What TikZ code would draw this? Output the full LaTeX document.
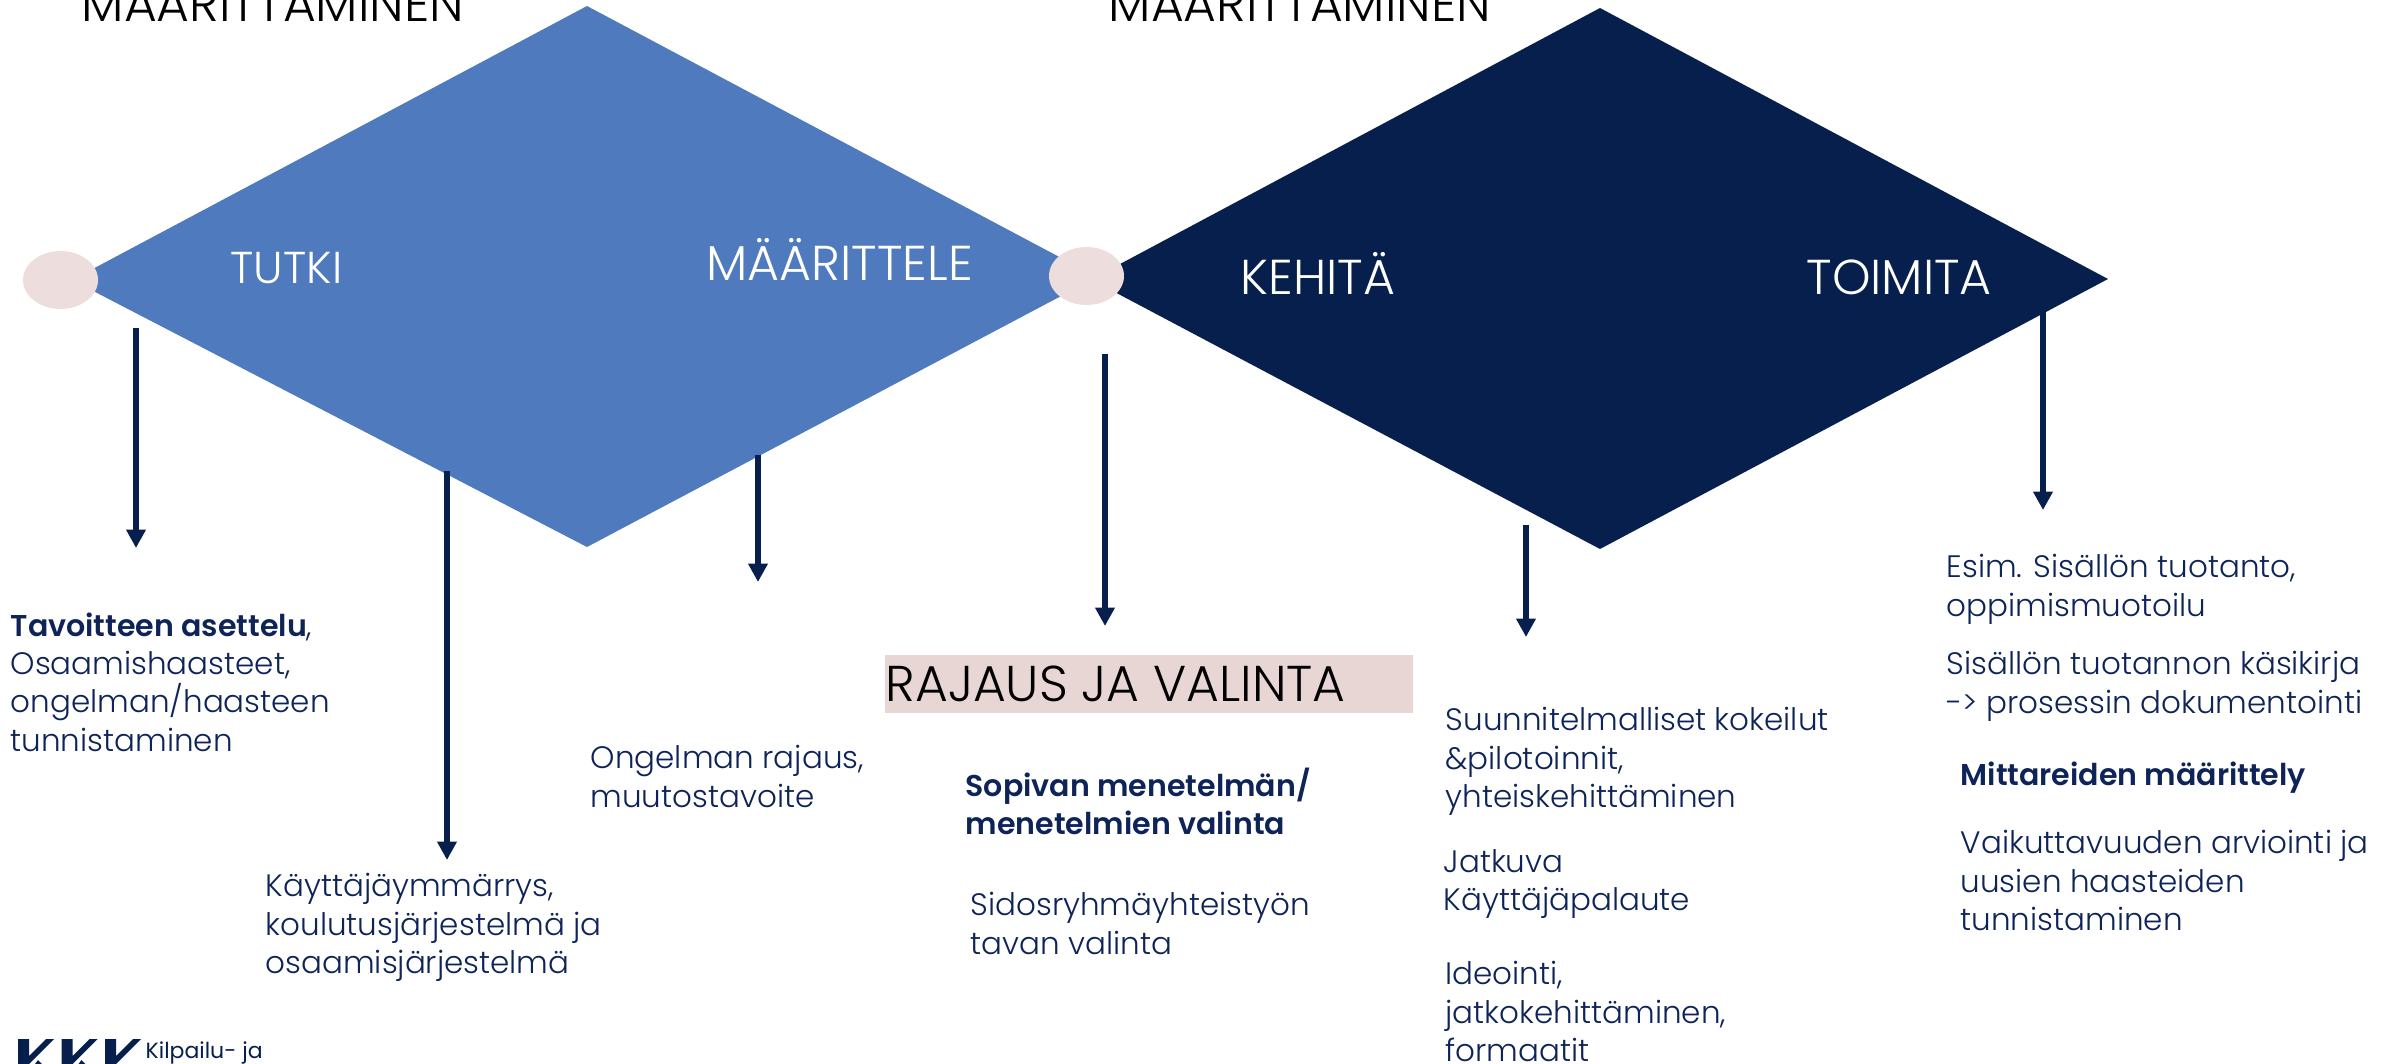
\documentclass[tikz,border=0pt]{standalone}
\usepackage{fontspec}
\setmainfont{Poppins Light}[BoldFont=Poppins SemiBold,BoldFeatures={Scale=0.97}]
\newfontfamily\logofont{Poppins}
\definecolor{bluea}{HTML}{4F7ABD}
\definecolor{navy}{HTML}{061F4C}
\definecolor{txt}{HTML}{0E2458}
\definecolor{pinka}{HTML}{EDDEDD}
\definecolor{pinkb}{HTML}{E8D6D5}
\usetikzlibrary{arrows.meta,shapes.geometric}
\tikzset{
 x=0.3pt,y=-0.3pt,
 body/.style={anchor=north west,inner sep=0pt,align=left,text=txt,font=\fontsize{9.3}{11.5}\selectfont},
 phase/.style={anchor=base west,inner sep=0pt,text=white,font=\fontsize{14.7}{16}\selectfont},
 head/.style={anchor=base west,inner sep=0pt,text=black,font=\fontsize{15.1}{17}\selectfont},
 flow/.style={draw=navy,line width=1.6pt,-{Triangle[length=5.5pt,width=5.6pt]}},
 dot/.style={ellipse,fill=pinka,minimum width=22.5pt,minimum height=17.4pt,inner sep=0pt},
 logotext/.style={anchor=base west,inner sep=0pt,text=navy,font=\logofont\fontsize{6.6}{8}\selectfont},
}
\begin{document}
\begin{tikzpicture}
\useasboundingbox (0,0) rectangle (2400,1064);
\clip (0,0) rectangle (2400,1064);
\fill[bluea] (72,280)--(587,6)--(1097,277)--(587,547)--cycle;
\fill[navy] (1091,279.5)--(1600,8)--(2108,279)--(1600,549)--cycle;
\node[dot] (d1) at (60.5,280) {};
\node[dot] (d2) at (1086.5,276) {};
\node[head] (h1) at (81,22) {MÄÄRITTÄMINEN};
\node[head] (h2) at (1108,22) {MÄÄRITTÄMINEN};
\node[phase,font=\fontsize{13.4}{15}\selectfont] (p1) at (230,283) {TUTKI};
\node[phase] (p2) at (706,281) {MÄÄRITTELE};
\node[phase] (p3) at (1240,295) {KEHITÄ};
\node[phase] (p4) at (1806,295) {TOIMITA};
\node[fill=pinkb,minimum width=158.4pt,minimum height=17.4pt,inner sep=0pt,anchor=north west] (r) at (884,654) {};
\node[head] (rt) at (885,701) {RAJAUS JA VALINTA};
\node[body] (t1) at (10,612) {\textbf{Tavoitteen asettelu},\\Osaamishaasteet,\\ongelman/haasteen\\tunnistaminen};
\node[body] (t2) at (265,873) {Käyttäjäymmärrys,\\koulutusjärjestelmä ja\\osaamisjärjestelmä};
\node[body] (t3) at (590,745) {Ongelman rajaus,\\muutostavoite};
\node[body] (t4) at (965,767) {\textbf{Sopivan menetelmän/}\\\textbf{menetelmien valinta}};
\node[body] (t5) at (970,892) {Sidosryhmäyhteistyön\\tavan valinta};
\node[body] (t6) at (1445,707) {Suunnitelmalliset kokeilut\\\&pilotoinnit,\\yhteiskehittäminen};
\node[body] (t7) at (1443,849) {Jatkuva\\Käyttäjäpalaute};
\node[body] (t8) at (1445,961) {Ideointi,\\jatkokehittäminen,\\formaatit};
\node[body] (t9) at (1946,554) {Esim. Sisällön tuotanto,\\oppimismuotoilu};
\node[body] (t10) at (1946,651) {Sisällön tuotannon käsikirja\\-> prosessin dokumentointi};
\node[body] (t11) at (1960,761) {\textbf{Mittareiden määrittely}};
\node[body] (t12) at (1960,830) {Vaikuttavuuden arviointi ja\\uusien haasteiden\\tunnistaminen};
\coordinate (a1) at (136,328); \coordinate (b1) at (136,548);
\coordinate (a2) at (447,471); \coordinate (b2) at (447,860);
\coordinate (a3) at (758,455); \coordinate (b3) at (758,582);
\coordinate (a4) at (1105,354); \coordinate (b4) at (1105,626);
\coordinate (a5) at (1526,525); \coordinate (b5) at (1526,637);
\coordinate (a6) at (2043,311); \coordinate (b6) at (2043,510);
\foreach \i in {1,...,6} \draw[flow] (a\i) -- (b\i);
\foreach \dx in {0,43.5,87}
  \fill[navy,shift={(\dx*0.3pt,0)}] (18,1039)--(29,1039)--(29,1056)--(46,1039)--(54,1039)--(29,1064)--(18,1064)--cycle;
\foreach \dx in {0,43.5}
  \fill[navy,shift={(\dx*0.3pt,0)}] (35,1064)--(38,1060)--(42,1064)--cycle;
\node[logotext] (logo) at (145,1058) {Kilpailu- ja};
\node[logotext] (logob) at (145,1082) {kuluttajavirasto};
\end{tikzpicture}
\end{document}
